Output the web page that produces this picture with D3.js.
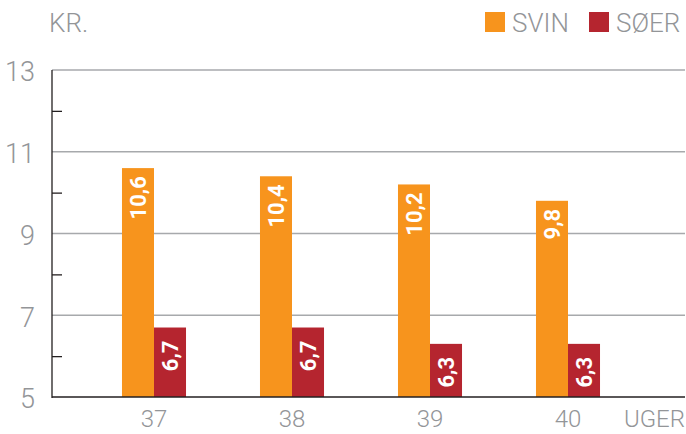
<!DOCTYPE html>
<html><head><meta charset="utf-8">
<script src="https://cdn.jsdelivr.net/npm/d3@7"></script>
<style>body{margin:0;background:#fff}svg{display:block}</style>
</head><body>
<script>
const categories = ["37","38","39","40"];
const seriesNames = ["SVIN","SØER"];
const svin = [10.6,10.4,10.2,9.8];
const soer = [6.7,6.7,6.3,6.3];
const svinLabels = ["10,6","10,4","10,2","9,8"];
const soerLabels = ["6,7","6,7","6,3","6,3"];
const majorTicks = [5,7,9,11,13];
const minorTicks = [6,8,10,12];
const colors = ["#f7941d","#b5252f"];

const W=686,H=434;
const svg=d3.select("body").append("svg").attr("width",W).attr("height",H);
const FONT="Roboto, 'Open Sans', sans-serif";
const grey="#939598";

const y=d3.scaleLinear().domain([5,13]).range([397,70]);
const x=d3.scaleBand().domain(categories).range([85,637]).padding(0);
const x1=d3.scaleBand().domain(seriesNames).range([x.bandwidth()*0.268, x.bandwidth()*0.732]);

// gridlines
svg.append("g").selectAll("line").data(majorTicks.filter(d=>d>5)).join("line")
  .attr("x1",52).attr("x2",685).attr("y1",d=>y(d)).attr("y2",d=>y(d))
  .attr("stroke","#a7a9ac").attr("stroke-width",1.3);

// y axis with inner ticks
const yAxis=d3.axisRight(y).tickValues(minorTicks).tickSize(10).tickFormat("");
const ga=svg.append("g").attr("transform","translate(52,0)").call(yAxis);
ga.select(".domain").remove();
ga.selectAll(".tick line").attr("stroke","#231f20").attr("stroke-width",1.3);
svg.append("line").attr("x1",52).attr("x2",52).attr("y1",y(13)).attr("y2",y(5)+1).attr("stroke","#231f20").attr("stroke-width",1.3);

// y labels
svg.append("g").selectAll("text").data(majorTicks).join("text")
  .attr("x",35).attr("y",d=>y(d)+2).attr("dy","0.35em").attr("text-anchor","end")
  .attr("font-family",FONT).attr("font-weight",300).attr("font-size",27).attr("fill",grey)
  .text(d=>d);

// bars
const groups=svg.append("g").selectAll("g").data(categories).join("g")
  .attr("transform",d=>`translate(${x(d)},0)`);
const vals=[svin,soer], labs=[svinLabels,soerLabels];
seriesNames.forEach((s,si)=>{
  groups.append("rect")
    .attr("x",x1(s)).attr("width",x1.bandwidth())
    .attr("y",(d,i)=>y(vals[si][i])).attr("height",(d,i)=>y(5)-y(vals[si][i]))
    .attr("fill",colors[si]);
  groups.append("text")
    .attr("transform",(d,i)=>`translate(${x1(s)+x1.bandwidth()/2+8},${y(vals[si][i])+(si===0?8:13)}) rotate(-90)`)
    .attr("text-anchor","end")
    .attr("font-family",FONT).attr("font-weight",700).attr("font-size",22).attr("fill","#fff")
    .text((d,i)=>labs[si][i]);
});

// baseline
svg.append("line").attr("x1",52).attr("x2",685).attr("y1",y(5)).attr("y2",y(5)).attr("stroke","#231f20").attr("stroke-width",1.5);

// x labels
svg.append("g").selectAll("text").data(categories).join("text")
  .attr("x",d=>x(d)+x.bandwidth()/2).attr("y",427).attr("text-anchor","middle")
  .attr("font-family",FONT).attr("font-weight",300).attr("font-size",24).attr("fill",grey)
  .text(d=>d);
svg.append("text").attr("x",685).attr("y",427).attr("text-anchor","end")
  .attr("font-family",FONT).attr("font-weight",300).attr("font-size",24).attr("fill",grey).text("UGER");

// title
svg.append("text").attr("x",49).attr("y",32).attr("font-family",FONT).attr("font-weight",300)
  .attr("font-size",26).attr("fill",grey).text("KR.");

// legend
const legX=[485,589];
seriesNames.forEach((s,i)=>{
  svg.append("rect").attr("x",legX[i]).attr("y",12).attr("width",20).attr("height",20).attr("fill",colors[i]);
  svg.append("text").attr("x",legX[i]+27).attr("y",32).attr("font-family",FONT).attr("font-weight",300)
    .attr("font-size",26).attr("fill",grey).text(s);
});
</script>
</body></html>
